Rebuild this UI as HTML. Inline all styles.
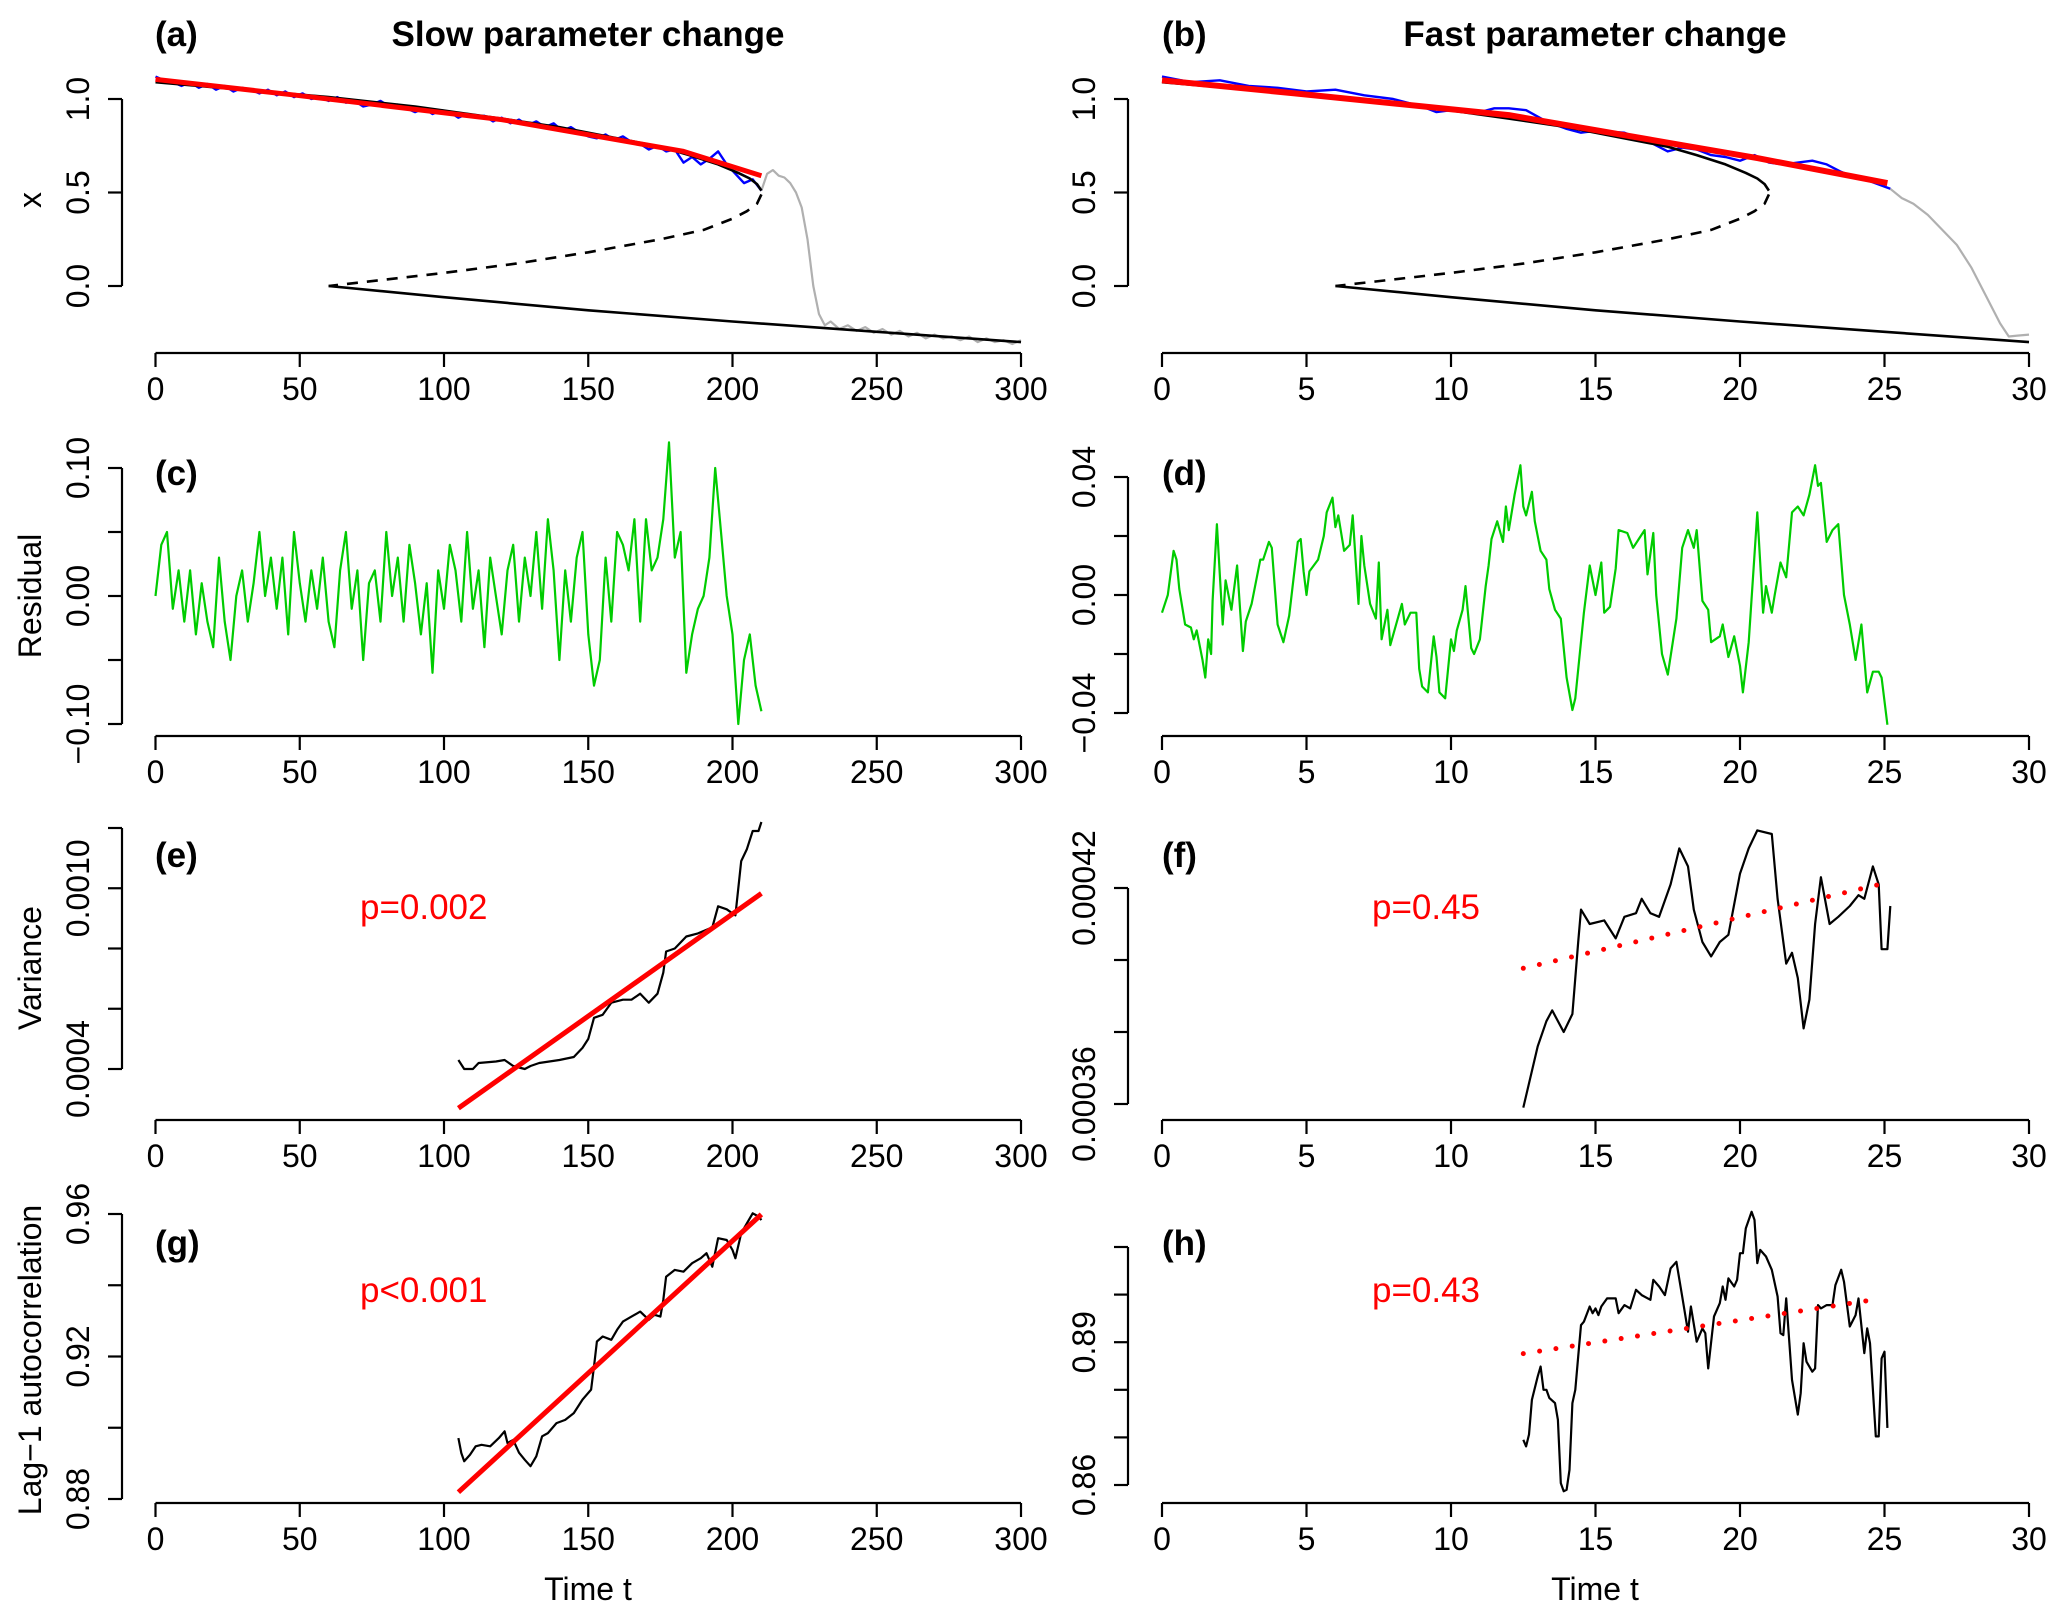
<!DOCTYPE html>
<html><head><meta charset="utf-8"><title>Early warning signals</title>
<style>
html,body{margin:0;padding:0;background:#fff;}
svg{display:block;font-family:"Liberation Sans",Arial,sans-serif;}
</style></head>
<body>
<svg id="chart" width="2067" height="1618" viewBox="0 0 2067 1618" xmlns="http://www.w3.org/2000/svg"></svg>
<script>
// ---------- DATA ----------
// Panel (a) slow
const aUpperT=[0,30,60,90,120,140,160,175,185,195,202,206,208.5,210];
const aUpperX=[1.09,1.05,1.01,0.96,0.895,0.85,0.79,0.745,0.70,0.65,0.605,0.575,0.545,0.51];
const aUnstT=[210,208.5,205,200,190,175,150,125,100,80,60];
const aUnstX=[0.49,0.44,0.40,0.36,0.30,0.25,0.18,0.12,0.07,0.035,0.0];
const aLowerT=[60,100,150,200,250,300];
const aLowerX=[0,-0.06,-0.13,-0.19,-0.245,-0.30];
const aRedT=[0,46,120,183,210];
const aRedX=[1.105,1.025,0.89,0.72,0.59];
const aBlueX=[1.12,1.10,1.09,1.07,1.09,1.06,1.08,1.05,1.07,1.04,1.06,1.05,1.03,1.05,1.02,1.04,1.01,1.03,1.00,1.01,0.99,1.01,0.98,0.99,0.96,0.97,0.99,0.96,0.97,0.95,0.93,0.95,0.92,0.94,0.93,0.90,0.92,0.90,0.91,0.88,0.90,0.87,0.89,0.86,0.88,0.85,0.87,0.83,0.85,0.82,0.80,0.79,0.81,0.78,0.80,0.77,0.76,0.73,0.75,0.72,0.73,0.66,0.69,0.65,0.68,0.72,0.65,0.60,0.55,0.57,0.51];
const aBlueStep=3;
const aGrayT=[210,212,214,216,218,220,222,224,226,228,230,232,234,237,240,243,246,249,252,255,258,261,264,267,270,273,276,279,282,285,288,291,294,297,300];
const aGrayX=[0.51,0.60,0.62,0.59,0.58,0.55,0.50,0.42,0.25,0.0,-0.15,-0.21,-0.19,-0.23,-0.21,-0.24,-0.22,-0.25,-0.23,-0.26,-0.24,-0.27,-0.25,-0.28,-0.26,-0.28,-0.27,-0.29,-0.27,-0.30,-0.28,-0.30,-0.29,-0.31,-0.29];
// Panel (b) fast
const bUpperT=[0,3,6,9,12,14,16,17.5,18.5,19.5,20.2,20.6,20.85,21];
const bUpperX=[1.09,1.05,1.01,0.96,0.895,0.85,0.79,0.745,0.70,0.65,0.605,0.575,0.545,0.51];
const bUnstT=[21,20.85,20.5,20,19,17.5,15,12.5,10,8,6];
const bUnstX=[0.49,0.44,0.40,0.36,0.30,0.25,0.18,0.12,0.07,0.035,0.0];
const bLowerT=[6,10,15,20,25,30];
const bLowerX=[0,-0.06,-0.13,-0.19,-0.245,-0.30];
const bRedT=[0,4.6,12,18.3,20.6,25.1];
const bRedX=[1.10,1.03,0.914,0.745,0.684,0.55];
const bBlueT=[0,1,2,3,4,5,6,7,8,9,9.5,10,11,11.5,12,12.6,13.3,14,14.5,15,16,16.5,17,17.5,18,18.5,19,19.5,20,20.5,21,21.5,22,22.5,23,23.5,24,24.5,25.2];
const bBlueX=[1.12,1.09,1.10,1.07,1.06,1.04,1.05,1.02,1.00,0.96,0.93,0.94,0.93,0.95,0.95,0.94,0.88,0.84,0.82,0.83,0.82,0.79,0.76,0.72,0.74,0.73,0.70,0.69,0.67,0.70,0.66,0.65,0.66,0.67,0.65,0.61,0.58,0.56,0.52];
const bGrayT=[25.2,25.6,26,26.5,27,27.5,28,28.5,29,29.3,29.6,30];
const bGrayX=[0.52,0.47,0.44,0.38,0.30,0.22,0.10,-0.05,-0.20,-0.27,-0.265,-0.26];
// Panel (c) residual slow (t = i*2)
const cVals=[0.00,0.04,0.05,-0.01,0.02,-0.02,0.02,-0.03,0.01,-0.02,-0.04,
0.03,-0.02,-0.05,0.00,0.02,-0.02,0.01,0.05,0.00,0.03,
-0.01,0.03,-0.03,0.05,0.01,-0.02,0.02,-0.01,0.03,-0.02,
-0.04,0.02,0.05,-0.01,0.02,-0.05,0.01,0.02,-0.02,0.05,
0.00,0.03,-0.02,0.04,0.01,-0.03,0.01,-0.06,0.02,-0.01,
0.04,0.02,-0.02,0.05,-0.01,0.02,-0.04,0.03,0.00,-0.03,
0.02,0.04,-0.02,0.03,0.00,0.05,-0.01,0.06,0.02,-0.05,
0.02,-0.02,0.03,0.05,-0.03,-0.07,-0.05,0.03,-0.02,0.05,
0.04,0.02,0.06,-0.02,0.06,0.02,0.03,0.06,0.12,0.03,
0.05,-0.06,-0.03,-0.01,0.00,0.03,0.10,0.05,0.00,-0.03,
-0.10,-0.05,-0.03,-0.07,-0.09];
const cStep=2;
// Panel (d) residual fast
const dT=[0,0.2,0.4,0.5,0.6,0.8,1.0,1.1,1.2,1.4,1.5,1.6,1.7,1.75,1.9,2.1,2.2,2.4,2.6,2.8,2.9,3.1,3.4,3.5,3.7,3.8,4.0,4.2,4.4,4.7,4.8,4.9,5.0,5.1,5.4,5.6,5.7,5.9,6.0,6.1,6.3,6.5,6.6,6.8,6.9,7.0,7.2,7.4,7.5,7.6,7.8,7.9,8.1,8.3,8.4,8.6,8.8,8.9,9.0,9.2,9.4,9.5,9.6,9.8,10.0,10.1,10.2,10.4,10.5,10.7,10.8,11.0,11.2,11.3,11.4,11.6,11.8,11.9,12.0,12.2,12.4,12.5,12.6,12.8,12.9,13.1,13.3,13.4,13.6,13.8,14.0,14.2,14.3,14.6,14.8,15.0,15.2,15.3,15.5,15.7,15.8,16.1,16.3,16.5,16.7,16.8,17.0,17.1,17.3,17.5,17.8,18.0,18.2,18.4,18.5,18.7,18.9,19.0,19.3,19.4,19.6,19.8,20.0,20.1,20.3,20.6,20.8,20.9,21.1,21.2,21.4,21.6,21.8,22.0,22.2,22.4,22.6,22.7,22.8,23.0,23.2,23.4,23.6,23.8,24.0,24.2,24.4,24.6,24.8,24.9,25.1];
const dVals=[-0.006,0.0,0.015,0.012,0.002,-0.01,-0.011,-0.015,-0.012,-0.022,-0.028,-0.015,-0.02,-0.002,0.024,-0.01,0.005,-0.005,0.01,-0.019,-0.009,-0.003,0.012,0.012,0.018,0.016,-0.01,-0.016,-0.007,0.018,0.019,0.008,0.0,0.008,0.012,0.02,0.028,0.033,0.023,0.027,0.015,0.017,0.027,-0.003,0.02,0.01,-0.003,-0.008,0.011,-0.015,-0.005,-0.017,-0.01,-0.003,-0.01,-0.006,-0.006,-0.025,-0.031,-0.033,-0.014,-0.021,-0.033,-0.035,-0.015,-0.019,-0.012,-0.005,0.003,-0.018,-0.02,-0.015,0.003,0.01,0.019,0.025,0.018,0.03,0.022,0.034,0.044,0.03,0.027,0.035,0.025,0.015,0.012,0.002,-0.005,-0.008,-0.028,-0.039,-0.035,-0.006,0.01,0.0,0.011,-0.006,-0.004,0.009,0.022,0.021,0.016,0.019,0.022,0.007,0.021,0.0,-0.02,-0.027,-0.008,0.016,0.022,0.016,0.022,-0.002,-0.005,-0.016,-0.014,-0.01,-0.021,-0.014,-0.024,-0.033,-0.016,0.028,-0.006,0.003,-0.006,0.0,0.011,0.006,0.028,0.03,0.027,0.034,0.044,0.037,0.038,0.018,0.022,0.024,0.0,-0.01,-0.022,-0.01,-0.033,-0.026,-0.026,-0.028,-0.044];
// Panel (e) variance slow
const eT=[105,107,110,112,118,121,124,128,130,133,140,145,148,150,152,155,158,162,165,168,171,174,176,177,180,184,188,193,195,198,201,203,205,207,209,210];
const eVals=[0.00043,0.00040,0.00040,0.00042,0.000425,0.00043,0.00041,0.00040,0.00041,0.00042,0.00043,0.00044,0.00047,0.00050,0.00057,0.00058,0.00062,0.00063,0.00063,0.00065,0.00062,0.00065,0.00072,0.00079,0.00080,0.00084,0.00085,0.00087,0.00094,0.00093,0.00091,0.00109,0.00113,0.00119,0.00119,0.00122];
const eFitT=[105,210];
const eFitV=[0.00027,0.000983];
// Panel (f) variance fast
const fT=[12.5,13.0,13.3,13.5,13.9,14.2,14.4,14.5,14.8,15.3,15.7,16.0,16.4,16.6,16.9,17.2,17.6,17.9,18.2,18.4,18.7,19.0,19.3,19.6,20.0,20.3,20.6,21.1,21.3,21.6,21.8,22.0,22.2,22.4,22.6,22.8,23.1,23.4,23.8,24.1,24.3,24.6,24.8,24.9,25.1,25.2];
const fVals=[0.000359,0.000376,0.000383,0.000386,0.00038,0.000385,0.000405,0.000414,0.00041,0.000411,0.000406,0.000412,0.000413,0.000417,0.000413,0.000412,0.000421,0.000431,0.000426,0.000414,0.000405,0.000401,0.000405,0.000407,0.000424,0.000431,0.000436,0.000435,0.000417,0.000399,0.000402,0.000395,0.000381,0.000389,0.00041,0.000423,0.00041,0.000412,0.000415,0.000418,0.000417,0.000426,0.000421,0.000403,0.000403,0.000415];
const fFitT=[12.5,25];
const fFitV=[0.0003977,0.0004213];
// Panel (g) autocorrelation slow
const gT=[105,106,107,109,111,113,116,119,121,122,124,126,128,130,132,134,136,139,142,145,148,151,152,153,155,158,160,162,165,168,171,173,175,176,177,180,183,186,189,191,193,195,198,200,201,203,205,207,209,210];
const gVals=[0.8971,0.8929,0.8906,0.8924,0.8948,0.8952,0.8948,0.8971,0.899,0.8957,0.8966,0.893,0.891,0.8892,0.892,0.8976,0.8985,0.9013,0.9022,0.9041,0.9079,0.9107,0.9172,0.9242,0.9256,0.9247,0.9275,0.9298,0.9312,0.9326,0.9303,0.9317,0.9312,0.9359,0.9424,0.9443,0.9438,0.9462,0.9476,0.949,0.9452,0.9532,0.9527,0.9499,0.9476,0.9546,0.9574,0.9602,0.9593,0.9583];
const gFitT=[105,210];
const gFitV=[0.8819,0.9599];
// Panel (h) autocorrelation fast
const hT=[12.5,12.6,12.7,12.8,13.0,13.1,13.2,13.3,13.4,13.6,13.7,13.8,13.9,14.0,14.1,14.2,14.3,14.4,14.5,14.6,14.8,14.9,15.0,15.1,15.2,15.4,15.7,15.8,16.0,16.2,16.4,16.6,16.9,17.0,17.2,17.4,17.6,17.8,18.0,18.2,18.3,18.5,18.7,18.8,18.9,19.1,19.3,19.4,19.5,19.6,19.8,19.9,20.0,20.1,20.2,20.4,20.5,20.6,20.7,20.9,21.1,21.3,21.4,21.5,21.6,21.8,22.0,22.1,22.2,22.3,22.5,22.6,22.7,22.8,23.0,23.2,23.3,23.5,23.6,23.8,24.0,24.1,24.3,24.4,24.5,24.7,24.8,24.9,25.0,25.1];
const hVals=[0.8695,0.8681,0.8706,0.8779,0.8828,0.8849,0.88,0.88,0.8783,0.8772,0.8737,0.8604,0.8587,0.859,0.8632,0.8772,0.88,0.887,0.8936,0.8943,0.8975,0.8961,0.8971,0.8957,0.8975,0.8992,0.8992,0.8961,0.8978,0.8971,0.901,0.8999,0.8989,0.9031,0.9017,0.8999,0.9055,0.9069,0.8996,0.8922,0.8975,0.8901,0.8929,0.8919,0.8845,0.8954,0.8982,0.9017,0.8989,0.9034,0.9017,0.9031,0.9087,0.9087,0.9139,0.9174,0.9157,0.9066,0.9094,0.908,0.9052,0.8996,0.8919,0.8915,0.8992,0.8821,0.8748,0.8793,0.8898,0.8859,0.8838,0.8845,0.8978,0.8971,0.8978,0.8978,0.902,0.9052,0.9027,0.8933,0.8957,0.8992,0.8877,0.8929,0.8898,0.8702,0.8702,0.8866,0.888,0.872];
const hFitT=[12.5,24.7];
const hFitV=[0.8876,0.899];
// tick labels
const leftXTicks=[0,50,100,150,200,250,300];
const rightXTicks=[0,5,10,15,20,25,30];
const abYTicks=[0,0.5,1.0];
const abYLabels=["0.0","0.5","1.0"];
const cYTicks=[-0.10,-0.05,0,0.05,0.10];
const cYLabels=["\u22120.10","","0.00","","0.10"];
const dYTicks=[-0.04,-0.02,0,0.02,0.04];
const dYLabels=["\u22120.04","","0.00","","0.04"];
const eYTicks=[0.0004,0.0006,0.0008,0.0010,0.0012];
const eYLabels=["0.0004","","","0.0010",""];
const fYTicks=[0.00036,0.00038,0.00040,0.00042];
const fYLabels=["0.00036","","","0.00042"];
const gYTicks=[0.88,0.90,0.92,0.94,0.96];
const gYLabels=["0.88","","0.92","","0.96"];
const hYTicks=[0.86,0.87,0.88,0.89,0.90,0.91];
const hYLabels=["0.86","","","0.89","",""];

// ---------- DRAWING ----------
const svg=document.getElementById('chart');
const NS='http://www.w3.org/2000/svg';
function mk(tag,parent){const e=document.createElementNS(NS,tag);(parent||svg).appendChild(e);return e;}
function lin(d0,d1,p0,p1){return v=>p0+(v-d0)*(p1-p0)/(d1-d0);}
const XL=lin(0,300,155.5,1021);
const XR=lin(0,30,1162,2029);
function pathFrom(ts,vs,X,Y){let s='';for(let i=0;i<vs.length;i++){s+=(i?'L':'M')+X(ts[i]).toFixed(1)+' '+Y(vs[i]).toFixed(1);}return s;}
function line(g,ts,vs,X,Y,color,w,name,dash){
  const p=mk('path',g);
  p.setAttribute('d',pathFrom(ts,vs,X,Y));
  p.setAttribute('fill','none');p.setAttribute('stroke',color);p.setAttribute('stroke-width',w);
  p.setAttribute('stroke-linejoin','round');
  if(dash){p.setAttribute('stroke-dasharray',dash);}
  if(dash==='0 16.5'){p.setAttribute('stroke-linecap','round');}
  
  
  return p;
}
function txt(g,x,y,str,size,opts){
  const t=mk('text',g);
  t.setAttribute('x',x);t.setAttribute('y',y);t.setAttribute('font-size',size);
  t.setAttribute('text-anchor',(opts&&opts.anchor)||'middle');
  if(opts&&opts.bold)t.setAttribute('font-weight','bold');
  if(opts&&opts.fill)t.setAttribute('fill',opts.fill);
  if(opts&&opts.rot)t.setAttribute('transform','rotate(-90 '+x+' '+y+')');
  t.textContent=str;
  return t;
}
function axes(g,X,Y,xticks,yticks,ylabels,yAxisY,axisX,labX){
  const xa=mk('g',g);
  
  
  const l=mk('line',xa);
  l.setAttribute('x1',X(xticks[0]));l.setAttribute('x2',X(xticks[xticks.length-1]));
  l.setAttribute('y1',yAxisY);l.setAttribute('y2',yAxisY);l.setAttribute('stroke','#000');l.setAttribute('stroke-width',2.2);
  xticks.forEach(v=>{
    const t=mk('line',xa);
    t.setAttribute('x1',X(v));t.setAttribute('x2',X(v));t.setAttribute('y1',yAxisY);t.setAttribute('y2',yAxisY+14);
    t.setAttribute('stroke','#000');t.setAttribute('stroke-width',2.2);
    const lb=txt(xa,X(v),yAxisY+47,String(v),32);
    
    
  });
  const ya=mk('g',g);
  
  
  const l2=mk('line',ya);
  l2.setAttribute('x1',axisX);l2.setAttribute('x2',axisX);
  l2.setAttribute('y1',Y(yticks[0]));l2.setAttribute('y2',Y(yticks[yticks.length-1]));
  l2.setAttribute('stroke','#000');l2.setAttribute('stroke-width',2.2);
  yticks.forEach((v,i)=>{
    const t=mk('line',ya);
    t.setAttribute('x1',axisX-14);t.setAttribute('x2',axisX);t.setAttribute('y1',Y(v));t.setAttribute('y2',Y(v));
    t.setAttribute('stroke','#000');t.setAttribute('stroke-width',2.2);
    if(ylabels[i]){
      const lb=txt(ya,labX,Y(v),ylabels[i],32,{rot:true});
      
      
    }
  });
}
function panel(name){const g=mk('g');return g;}
const LAX=122, RAX=1128, LLAB=89, RLAB=1095;

// (a)
{const g=panel('panel-a');const Y=lin(0,1,286,99);
 axes(g,XL,Y,leftXTicks,abYTicks,abYLabels,353,LAX,LLAB);
 line(g,aGrayT,aGrayX,XL,Y,'#b0b0b0',2.2,'post-transition-series');
 line(g,aLowerT,aLowerX,XL,Y,'#000',2.6,'lower-stable-branch');
 line(g,aUnstT,aUnstX,XL,Y,'#000',2.6,'unstable-branch','11 9');
 line(g,aBlueX.map((v,i)=>i*aBlueStep),aBlueX,XL,Y,'#0000ff',2.4,'state-series');
 line(g,aUpperT,aUpperX,XL,Y,'#000',2.6,'upper-stable-branch');
 line(g,aRedT,aRedX,XL,Y,'#ff0000',5,'trend-fit');
 const t1=txt(g,155,46,'(a)',35,{bold:true,anchor:'start'});
 const t2=txt(g,588,46,'Slow parameter change',35,{bold:true});
 const t3=txt(g,41,200,'x',32,{rot:true});
}
// (b)
{const g=panel('panel-b');const Y=lin(0,1,286,99);
 axes(g,XR,Y,rightXTicks,abYTicks,abYLabels,353,RAX,RLAB);
 line(g,bGrayT,bGrayX,XR,Y,'#b0b0b0',2.2,'post-transition-series');
 line(g,bLowerT,bLowerX,XR,Y,'#000',2.6,'lower-stable-branch');
 line(g,bUnstT,bUnstX,XR,Y,'#000',2.6,'unstable-branch','11 9');
 line(g,bBlueT,bBlueX,XR,Y,'#0000ff',2.4,'state-series');
 line(g,bUpperT,bUpperX,XR,Y,'#000',2.6,'upper-stable-branch');
 line(g,bRedT,bRedX,XR,Y,'#ff0000',6,'trend-fit');
 const t1=txt(g,1162,46,'(b)',35,{bold:true,anchor:'start'});
 const t2=txt(g,1595,46,'Fast parameter change',35,{bold:true});
}
// (c)
{const g=panel('panel-c');const Y=lin(-0.10,0.10,724,468);
 axes(g,XL,Y,leftXTicks,cYTicks,cYLabels,736,LAX,LLAB);
 line(g,cVals.map((v,i)=>i*cStep),cVals,XL,Y,'#00cc00',2.2,'residual-series');
 const t1=txt(g,155,485,'(c)',35,{bold:true,anchor:'start'});
 const t3=txt(g,41,596,'Residual',32,{rot:true});
}
// (d)
{const g=panel('panel-d');const Y=lin(-0.04,0.04,713,477);
 axes(g,XR,Y,rightXTicks,dYTicks,dYLabels,736,RAX,RLAB);
 line(g,dT,dVals,XR,Y,'#00cc00',2.2,'residual-series');
 const t1=txt(g,1162,485,'(d)',35,{bold:true,anchor:'start'});
}
// (e)
{const g=panel('panel-e');const Y=lin(0.0004,0.0012,1069,828);
 axes(g,XL,Y,leftXTicks,eYTicks,eYLabels,1120,LAX,LLAB);
 line(g,eT,eVals,XL,Y,'#000',2.2,'variance-series');
 line(g,eFitT,eFitV,XL,Y,'#ff0000',5,'variance-trend');
 const t1=txt(g,155,867,'(e)',35,{bold:true,anchor:'start'});
 const t3=txt(g,41,968,'Variance',32,{rot:true});
 const p=txt(g,360,919,'p=0.002',35,{anchor:'start',fill:'#ff0000'});
}
// (f)
{const g=panel('panel-f');const Y=lin(0.00036,0.00042,1104,888);
 axes(g,XR,Y,rightXTicks,fYTicks,fYLabels,1120,RAX,RLAB);
 line(g,fT,fVals,XR,Y,'#000',2.2,'variance-series');
 line(g,fFitT,fFitV,XR,Y,'#ff0000',5,'variance-trend','0 16.5');
 const t1=txt(g,1162,867,'(f)',35,{bold:true,anchor:'start'});
 const p=txt(g,1372,919,'p=0.45',35,{anchor:'start',fill:'#ff0000'});
}
// (g)
{const g=panel('panel-g');const Y=lin(0.88,0.96,1499,1214);
 axes(g,XL,Y,leftXTicks,gYTicks,gYLabels,1503,LAX,LLAB);
 line(g,gT,gVals,XL,Y,'#000',2.2,'autocorrelation-series');
 line(g,gFitT,gFitV,XL,Y,'#ff0000',5,'autocorrelation-trend');
 const t1=txt(g,155,1255,'(g)',35,{bold:true,anchor:'start'});
 const t3=txt(g,41,1360,'Lag\u22121 autocorrelation',32,{rot:true});
 const p=txt(g,360,1302,'p<0.001',35,{anchor:'start',fill:'#ff0000'});
 const xt=txt(g,588,1600,'Time t',32);
}
// (h)
{const g=panel('panel-h');const Y=lin(0.86,0.91,1485,1247);
 axes(g,XR,Y,rightXTicks,hYTicks,hYLabels,1503,RAX,RLAB);
 line(g,hT,hVals,XR,Y,'#000',2.2,'autocorrelation-series');
 line(g,hFitT,hFitV,XR,Y,'#ff0000',5,'autocorrelation-trend','0 16.5');
 const t1=txt(g,1162,1255,'(h)',35,{bold:true,anchor:'start'});
 const p=txt(g,1372,1302,'p=0.43',35,{anchor:'start',fill:'#ff0000'});
 const xt=txt(g,1595,1600,'Time t',32);
}
</script>
</body></html>
